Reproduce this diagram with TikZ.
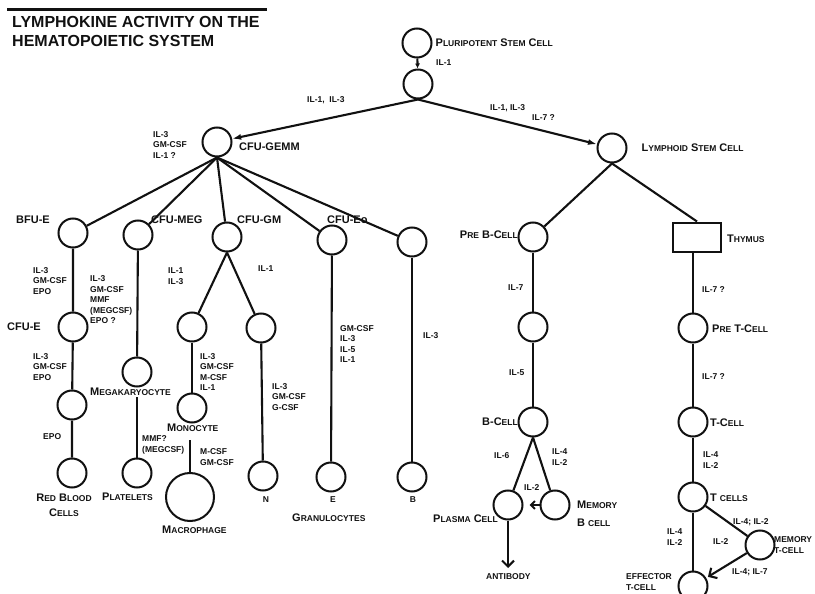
\documentclass[tikz,border=0pt]{standalone}
\usepackage{fontspec}
\setmainfont{Liberation Sans}
\usepackage{tikz}
\usetikzlibrary{positioning, arrows.meta}
\definecolor{inkBlack}{HTML}{111111}
% small caps made by hand: large first letter, smaller capitals after it
\newcommand{\smc}[2]{#1{\fontsize{8.5}{10}\selectfont\MakeUppercase{#2}}}
\tikzset{
  cell/.style={circle, draw=inkBlack, line width=2pt, minimum size=29pt, inner sep=0pt},
  link/.style={draw=inkBlack, line width=2.1pt},
  big/.style={font=\fontsize{11}{15}\selectfont\bfseries, text=inkBlack, inner sep=1pt},
  tag/.style={font=\fontsize{8.5}{10.5}\selectfont\bfseries, text=inkBlack, align=left, inner sep=0pt},
  caps/.style={font=\fontsize{8.5}{10.5}\selectfont\bfseries, text=inkBlack, align=left, inner sep=0pt},
}

\begin{document}
\begin{tikzpicture}[x=1pt, y=-1pt]
    \useasboundingbox (0,0) rectangle (815,594);
    % ---- title ----
    \draw[draw=inkBlack, line width=3pt] (7,10) -- (267,10);
    \node[anchor=north west, inner sep=0pt, align=left, text=inkBlack,
      font=\fontsize{16}{19}\selectfont\bfseries] (title) at (12,16)
      {LYMPHOKINE ACTIVITY ON THE\\HEMATOPOIETIC SYSTEM};
    % ---- stem cells ----
    \node[cell] (pluri) at (417,43) {};
    \node[cell] (stem) at (418,84) {};
    \node[cell] (gemm) at (217,142) {};
    \node[cell] (lymph) at (612,148) {};
    \node[big, right=2pt of pluri] (pluriLab) {\smc{P}{luripotent} \smc{S}{tem} \smc{C}{ell}};
    \node[big, right=13pt of lymph] (lymphLab) {\smc{L}{ymphoid} \smc{S}{tem} \smc{C}{ell}};
    \node[big, anchor=west] (gemmLab) at (238,147) {CFU-GEMM};
    \draw[link, -{Latex[length=5pt, width=5pt]}] (pluri) -- (stem);
    \draw[link, -{Latex[length=9pt, width=6pt]}] (stem.south) -- (gemm);
    \draw[link, -{Latex[length=9pt, width=6pt]}] (stem.south) -- (lymph);
    \node[tag, anchor=west] (tagPluri) at (436,63) {IL-1};
    \node[tag, anchor=west] (tagGemm) at (307,100) {IL-1,\ \ IL-3};
    \node[tag, anchor=west] (tagLymA) at (490,108) {IL-1, IL-3};
    \node[tag, anchor=west] (tagLymB) at (532,118) {IL-7 ?};
    \node[tag, anchor=west] (tagGemmIn) at (153,145) {IL-3\\GM-CSF\\IL-1 ?};
    % ---- myeloid progenitors ----
    \node[cell] (bfue) at (73,233) {};
    \node[cell] (cfumeg) at (138,235) {};
    \node[cell] (cfugm) at (227,237) {};
    \node[cell] (cfueo) at (332,240) {};
    \node[cell] (cfub) at (412,242) {};
    \foreach \k in {bfue,cfumeg,cfugm,cfueo,cfub}
      \draw[link] (gemm.south) -- (\k);
    \node[big, anchor=west] (bfueLab) at (15,220) {BFU-E};
    \node[big, anchor=west] (megLab) at (150,220) {CFU-MEG};
    \node[big, anchor=west] (gmLab) at (236,220) {CFU-GM};
    \node[big, anchor=west] (eoLab) at (326,220) {CFU-Eo};
    % ---- red cell line ----
    \node[cell] (cfue) at (73,327) {};
    \node[cell] (eryA) at (72,405) {};
    \node[cell] (rbc) at (72,473) {};
    \draw[link] (bfue) -- (cfue) -- (eryA) -- (rbc);
    \node[big, anchor=west] (cfueLab) at (6,327) {CFU-E};
    \node[tag, anchor=west] (tagBfue) at (33,281) {IL-3\\GM-CSF\\\smc{E}{po}};
    \node[tag, anchor=west] (tagCfue) at (33,367) {IL-3\\GM-CSF\\\smc{E}{po}};
    \node[tag, anchor=west] (tagEry) at (43,437) {\smc{E}{po}};
    \node[big, align=center] (rbcLab) at (64,505) {\smc{R}{ed} \smc{B}{lood}\\\smc{C}{ells}};
    % ---- megakaryocyte line ----
    \node[cell] (megak) at (137,372) {};
    \node[cell] (plate) at (137,473) {};
    \draw[link] (cfumeg) -- (megak);
    \node[big, anchor=west] (megakLab) at (89,392) {\smc{M}{egakaryocyte}};
    \draw[link] (megakLab.south -| megak) -- (plate);
    \node[tag, anchor=west] (tagMeg) at (90,300)
      {IL-3\\GM-CSF\\MMF\\(\smc{M}{eg}CSF)\\\smc{E}{po} ?};
    \node[tag, anchor=west] (tagPlate) at (142,445) {MMF?\\(\smc{M}{eg}CSF)};
    \node[big, anchor=west] (plateLab) at (101,497) {\smc{P}{latelets}};
    % ---- granulocyte / monocyte line ----
    \node[cell] (gmL) at (192,327) {};
    \node[cell] (gmR) at (261,328) {};
    \node[cell] (mono) at (192,408) {};
    \node[cell, minimum size=48pt] (macro) at (190,497) {};
    \node[cell] (neut) at (263,476) {};
    \node[cell] (eos) at (331,477) {};
    \node[cell] (baso) at (412,477) {};
    \draw[link] (cfugm.south) -- (gmL);
    \draw[link] (cfugm.south) -- (gmR);
    \draw[link] (gmL) -- (mono);
    \draw[link] (gmR) -- (neut);
    \draw[link] (cfueo) -- (eos);
    \draw[link] (cfub) -- (baso);
    \node[big, anchor=west] (monoLab) at (166,428) {\smc{M}{onocyte}};
    \draw[link, shorten <=7pt] (monoLab.south -| macro) -- (macro);
    \node[big, anchor=west] (macroLab) at (161,530) {\smc{M}{acrophage}};
    \node[tag, anchor=west] (tagGmL) at (168,276) {IL-1\\IL-3};
    \node[tag, anchor=west] (tagGmR) at (258,269) {IL-1};
    \node[tag, anchor=west] (tagMono) at (200,372) {IL-3\\GM-CSF\\M-CSF\\IL-1};
    \node[tag, anchor=west] (tagMacro) at (200,457) {M-CSF\\GM-CSF};
    \node[tag, anchor=west] (tagNeut) at (272,397) {IL-3\\GM-CSF\\G-CSF};
    \node[tag, anchor=west] (tagEos) at (340,344) {GM-CSF\\IL-3\\IL-5\\IL-1};
    \node[tag, anchor=west] (tagBaso) at (423,336) {IL-3};
    \node[tag] (neutLab) at (266,500) {N};
    \node[tag] (eosLab) at (333,500) {E};
    \node[tag] (basoLab) at (413,500) {B};
    \node[big, anchor=west] (granLab) at (291,518) {\smc{G}{ranulocytes}};
    % ---- B cell line ----
    \node[cell] (preB) at (533,237) {};
    \node[cell] (bA) at (533,327) {};
    \node[cell] (bcell) at (533,422) {};
    \node[cell] (plasma) at (508,505) {};
    \node[cell] (memB) at (555,505) {};
    \coordinate (antiEnd) at (508,568);
    \draw[link] (lymph.south) -- (preB);
    \draw[link] (preB) -- (bA) -- (bcell);
    \draw[link] (bcell.south) -- (plasma);
    \draw[link] (bcell.south) -- (memB);
    \draw[link, -{Straight Barb[length=4pt, width=8pt]}, shorten >=6pt] (memB) -- (plasma);
    \draw[link, -{Straight Barb[length=6pt, width=12pt]}] (plasma) -- (antiEnd);
    \node[big, anchor=east] (preBLab) at (519,235) {\smc{P}{re} B-\smc{C}{ell}};
    \node[big, anchor=east] (bcellLab) at (519,422) {B-\smc{C}{ell}};
    \node[big, anchor=east] (plasmaLab) at (499,519) {\smc{P}{lasma} \smc{C}{ell}};
    \node[big, anchor=west, align=left, font=\fontsize{11}{18}\selectfont\bfseries] (memBLab)
      at (576,514) {\smc{M}{emory}\\B \smc{}{cell}};
    \node[caps, anchor=west] (antiLab) at (486,577) {ANTIBODY};
    \node[tag, anchor=west] (tagPreB) at (508,288) {IL-7};
    \node[tag, anchor=west] (tagBA) at (509,373) {IL-5};
    \node[tag, anchor=west] (tagPlasma) at (494,456) {IL-6};
    \node[tag, anchor=west] (tagMemB) at (552,457) {IL-4\\IL-2};
    \node[tag, anchor=west] (tagBack) at (524,488) {IL-2};
    % ---- T cell line ----
    \node[draw=inkBlack, line width=2pt, minimum width=48pt, minimum height=29pt] (thymus) at (697,237) {};
    \node[cell] (preT) at (693,328) {};
    \node[cell] (tcell) at (693,422) {};
    \node[cell] (tcells) at (693,497) {};
    \node[cell] (effT) at (693,586) {};
    \node[cell] (memT) at (760,545) {};
    \draw[link] (lymph.south) -- (thymus.north);
    \draw[link] (thymus.south -| preT) -- (preT) -- (tcell) -- (tcells) -- (effT);
    \draw[link] (tcells) -- (memT);
    \draw[link, -{Straight Barb[length=6pt, width=12pt]}, shorten >=2pt] (memT) -- (effT);
    \node[big, anchor=west] (thymusLab) at (726,239) {\smc{T}{hymus}};
    \node[big, anchor=west] (preTLab) at (711,329) {\smc{P}{re} T-\smc{C}{ell}};
    \node[big, anchor=west] (tcellLab) at (709,423) {T-\smc{C}{ell}};
    \node[big, anchor=west] (tcellsLab) at (709,498) {T \smc{}{cells}};
    \node[caps, anchor=west] (effLab) at (626,582) {EFFECTOR\\T-CELL};
    \node[caps, anchor=west] (memTLab) at (774,545) {MEMORY\\T-CELL};
    \node[tag, anchor=west] (tagThy) at (702,290) {IL-7 ?};
    \node[tag, anchor=west] (tagPreT) at (702,377) {IL-7 ?};
    \node[tag, anchor=west] (tagTcell) at (703,460) {IL-4\\IL-2};
    \node[tag, anchor=west] (tagEff) at (667,537) {IL-4\\IL-2};
    \node[tag, anchor=west] (tagMemT) at (733,522) {IL-4; IL-2};
    \node[tag, anchor=west] (tagBackA) at (713,542) {IL-2};
    \node[tag, anchor=west] (tagBackB) at (732,572) {IL-4; IL-7};
\end{tikzpicture}
\end{document}
